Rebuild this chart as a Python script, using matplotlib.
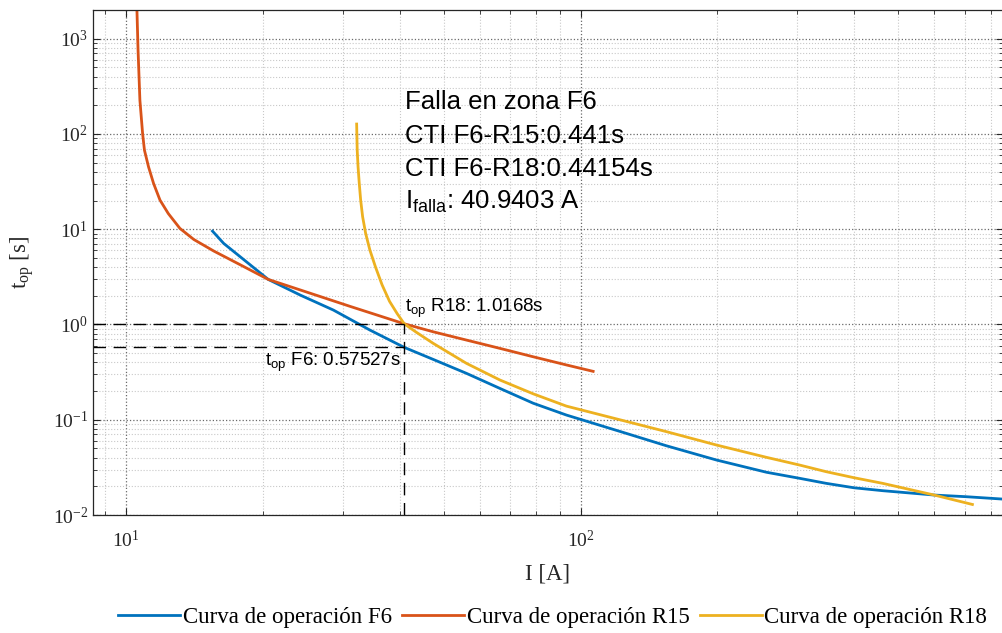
import numpy as np
import matplotlib
matplotlib.use("Agg")
import matplotlib.pyplot as plt
from matplotlib.ticker import LogLocator, NullFormatter

# fonts: serif for axes (MATLAB Times look), sans for the annotations
plt.rcParams['font.family'] = ['Liberation Serif', 'DejaVu Serif']
plt.rcParams['mathtext.fontset'] = 'custom'
plt.rcParams['mathtext.rm'] = 'Liberation Sans'
plt.rcParams['mathtext.it'] = 'Liberation Sans:italic'
plt.rcParams['axes.unicode_minus'] = False

# curves (I in A, t in s)
f6_I = [15.5, 16.4, 20.56, 24.2, 28.6, 34.4, 40.94, 47.4, 56.1, 66.5, 78.7, 93.1, 126, 154.5,
        199, 256.5, 303, 347, 400, 462, 600, 706, 848]
f6_t = [9.55, 7.1, 2.97, 2.03, 1.416, 0.874, 0.575, 0.43, 0.307, 0.213, 0.149, 0.112, 0.072, 0.0533,
        0.0378, 0.0281, 0.0243, 0.0215, 0.0193, 0.018, 0.0162, 0.01556, 0.0147]

r15_I = [10.57, 10.63, 10.73, 10.88, 10.98, 11.21, 11.50, 11.88, 12.39, 13.14, 14.1, 15.6, 17.81,
         20.56, 24.2, 31.1, 40.94, 47.4, 56.1, 66.5, 78.7, 93.1, 106.6]
r15_t = [2000, 757, 226, 100, 67.6, 45.1, 30.2, 20.2, 14.6, 10.2, 7.8, 5.9, 4.25,
         2.97, 2.3, 1.55, 1.0168, 0.838, 0.686, 0.561, 0.458, 0.376, 0.322]

r18_I = [32.17, 32.26, 32.4, 32.6, 32.83, 33.16, 33.67, 34.4, 35.4, 36.6, 38.0, 39.5, 40.94, 43.5,
         47.4, 56.1, 66.5, 78.7, 93.1, 122, 154.5, 199, 256.5, 303, 347, 400, 462, 600, 728]
r18_t = [127, 67.6, 45.1, 30.2, 20.2, 13.5, 9.04, 6.04, 4.0, 2.6, 1.75, 1.3, 1.0168, 0.83,
         0.634, 0.391, 0.261, 0.187, 0.139, 0.1, 0.075, 0.0543, 0.0403, 0.0335, 0.0285, 0.0246,
         0.0215, 0.0162, 0.0129]

I_falla = 40.9403
t_f6 = 0.57527
t_r18 = 1.0168
info_lines = ['Falla en zona F6', 'CTI F6-R15:0.441s', 'CTI F6-R18:0.44154s',
              r'I$_{\mathrm{falla}}$: 40.9403 A']
info_y = [182, 80.7, 36.1, 16.3]
labels = ['Curva de operación F6', 'Curva de operación R15', 'Curva de operación R18']
colors = ['#0072BD', '#D95319', '#EDB120']

xmin, xmax = 8.46, 850
ymin, ymax = 0.01, 2000

fig = plt.figure(figsize=(10.03, 6.33), dpi=100)
ax = fig.add_axes([0.0927, 0.1864, 0.9073, 0.7978])

ax.plot(f6_I, f6_t, color=colors[0], lw=2, label=labels[0])
ax.plot(r15_I, r15_t, color=colors[1], lw=2, label=labels[1])
ax.plot(r18_I, r18_t, color=colors[2], lw=2, label=labels[2])

# dashed guide lines
dash = (0, (9, 5.5))
ax.plot([xmin, I_falla], [t_r18, t_r18], color='k', lw=1, linestyle=dash)
ax.plot([xmin, I_falla], [t_f6, t_f6], color='k', lw=1, linestyle=dash)
ax.plot([I_falla, I_falla], [ymin, t_r18], color='k', lw=1, linestyle=dash)

ax.set_xscale('log')
ax.set_yscale('log')
ax.set_xlim(xmin, xmax)
ax.set_ylim(ymin, ymax)

ax.yaxis.set_major_locator(LogLocator(base=10, numticks=20))
ax.yaxis.set_minor_locator(LogLocator(base=10, subs=np.arange(2, 10), numticks=20))
ax.yaxis.set_minor_formatter(NullFormatter())
ax.xaxis.set_minor_formatter(NullFormatter())

ax.grid(True, which='major', linestyle=':', color='#444444', lw=0.9, alpha=0.8)
ax.grid(True, which='minor', linestyle=':', color='#bbbbbb', lw=0.8, alpha=0.8)
ax.set_axisbelow(True)

ax.tick_params(which='both', direction='in', top=True, right=True, labelsize=14, colors='#262626')
ax.tick_params(which='major', length=5, width=0.8)
ax.tick_params(which='minor', length=3, width=0.6)
ax.tick_params(axis='x', which='major', pad=11)
for s in ax.spines.values():
    s.set_color('#262626')
    s.set_linewidth(0.9)

ax.set_xlabel('I [A]', fontsize=16.5, color='#262626')
ax.xaxis.set_label_coords(0.5, -0.097)
ax.set_ylabel(r't$_{\mathdefault{op}}$ [s]', fontsize=16.5, color='#262626')
ax.yaxis.set_label_coords(-0.062, 0.5)

# annotations
for txt, yv in zip(info_lines, info_y):
    ax.text(41.1, yv, txt, fontsize=18.5, family='Liberation Sans', va='baseline', ha='left')
ax.text(41.1, 1.36, r't$_{\mathrm{op}}$ R18: 1.0168s', fontsize=13.5, family='Liberation Sans',
        va='baseline', ha='left')
ax.text(40.2, 0.366, r't$_{\mathrm{op}}$ F6: 0.57527s', fontsize=13.5, family='Liberation Sans',
        va='baseline', ha='right')

fig.legend(loc='center', bbox_to_anchor=(0.551, 0.025), ncol=3, frameon=False, fontsize=16.5,
           handlelength=2.7, handletextpad=0.12, columnspacing=0.45)

fig.savefig('out.png', dpi=100)
